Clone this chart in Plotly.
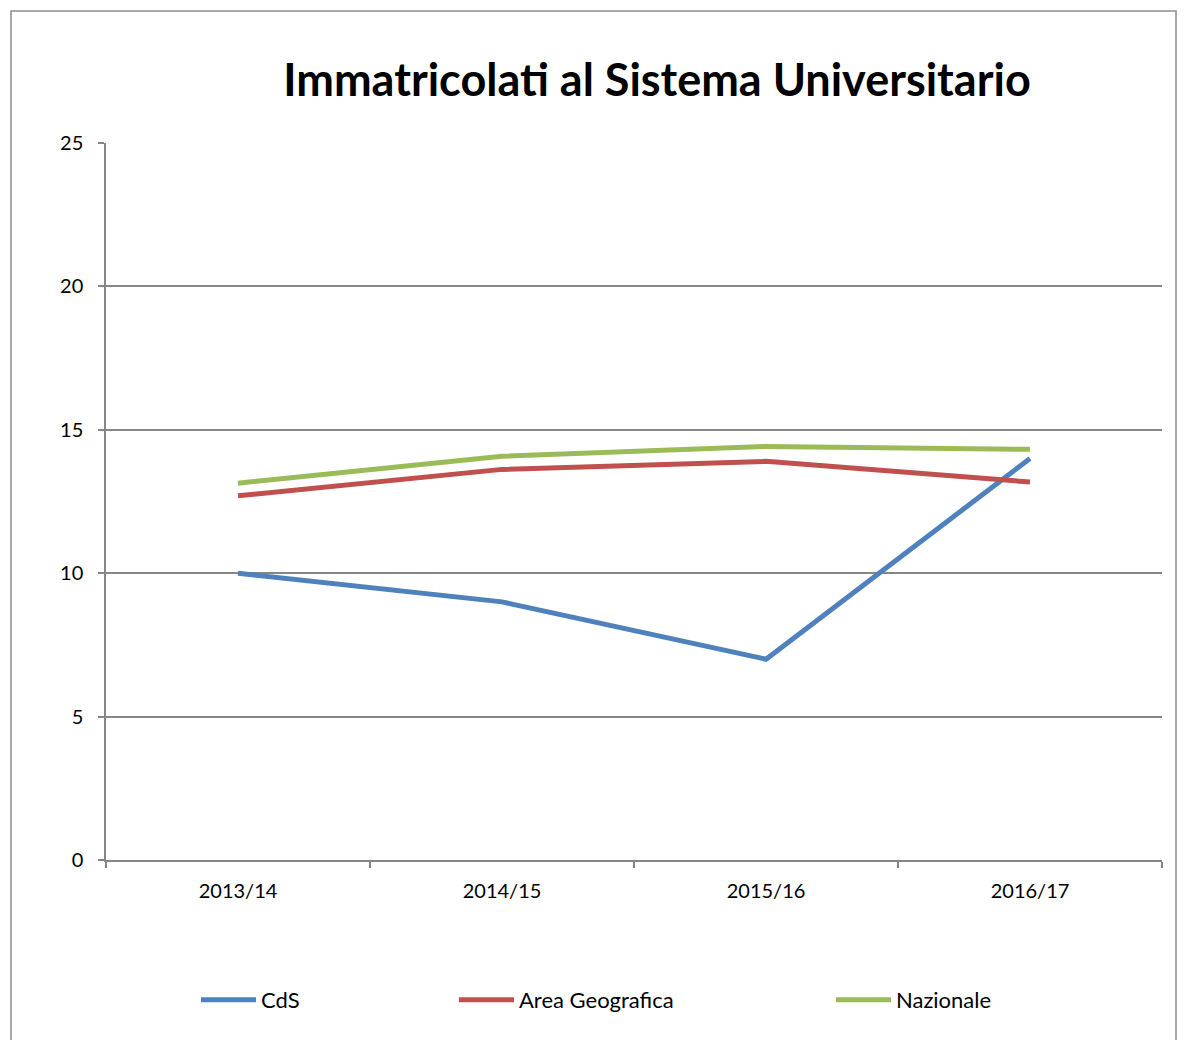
import plotly.graph_objects as go

categories = ["2013/14", "2014/15", "2015/16", "2016/17"]
cds = [10, 9, 7, 14]
area_geografica = [12.7, 13.62, 13.9, 13.18]
nazionale = [13.14, 14.08, 14.42, 14.32]

FONT = "Lato"
GRID = "#868686"

fig = go.Figure()
series = [
    ("CdS", cds, "#4F81BD", "legend"),
    ("Area Geografica", area_geografica, "#C0504D", "legend2"),
    ("Nazionale", nazionale, "#9BBB59", "legend3"),
]
for name, vals, color, lg in series:
    fig.add_trace(go.Scatter(x=categories, y=vals, name=name, mode="lines",
                             line=dict(color=color, width=5), legend=lg,
                             showlegend=True))

W, H = 1188, 1040
L, R, T, B = 106, 26, 143, 180
pw, ph = W - L - R, H - T - B

def px(x):
    return (x - L) / pw

def py(y):
    return (H - B - y) / ph

legend_common = dict(orientation="h", yanchor="middle", xanchor="left",
                     font=dict(family=FONT, size=22, color="#000000"),
                     bgcolor="rgba(0,0,0,0)", itemwidth=55, visible=True)

fig.update_layout(
    width=W, height=H,
    margin=dict(l=L, r=R, t=T, b=B),
    paper_bgcolor="white", plot_bgcolor="white",
    showlegend=True,
    font=dict(family=FONT, size=20, color="#000000"),
    title=dict(text="<b>Immatricolati al Sistema Universitario</b>",
               x=657 / W, xanchor="center", y=1 - 80 / H, yanchor="middle",
               font=dict(family=FONT, size=45, color="#000000")),
    legend=dict(x=px(196), y=py(1000), **legend_common),
    legend2=dict(x=px(454), y=py(1000), **legend_common),
    legend3=dict(x=px(831), y=py(1000), **legend_common),
    xaxis=dict(type="category", range=[-0.5, 3.5], showgrid=False,
               showline=True, linecolor=GRID, linewidth=1.5,
               ticks="outside", tickson="boundaries", ticklen=6,
               tickcolor=GRID, tickwidth=1.5, ticklabelstandoff=12,
               tickfont=dict(family=FONT, size=20)),
    yaxis=dict(range=[0, 25], dtick=5, showgrid=True, gridcolor=GRID,
               gridwidth=1.5, showline=True, linecolor=GRID, linewidth=1.5,
               ticks="outside", ticklen=6, tickcolor=GRID, tickwidth=1.5,
               ticklabelstandoff=11, zeroline=False,
               tickfont=dict(family=FONT, size=20)),
)

fig.add_shape(type="rect", xref="paper", yref="paper",
              x0=px(11), x1=px(1176), y0=py(1060), y1=py(11),
              line=dict(color="#8C8C8C", width=1.5), layer="below")

fig.write_html("out.html", config={"displayModeBar": False},
               post_script="document.body.style.margin='0';")
